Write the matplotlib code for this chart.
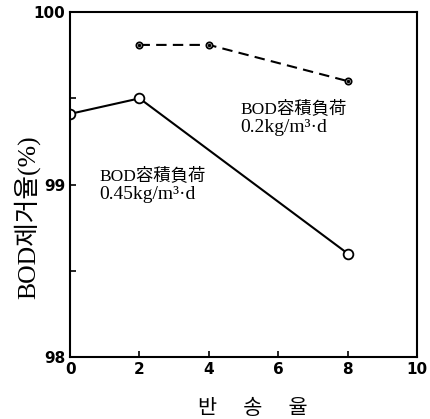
import matplotlib
matplotlib.use("Agg")
import matplotlib.pyplot as plt
from matplotlib.ticker import MultipleLocator

# Data
x_045 = [0, 2, 8]
y_045 = [99.41, 99.5, 98.6]
x_02 = [2, 4, 8]
y_02 = [99.81, 99.81, 99.6]
xticks = [0, 2, 4, 6, 8, 10]
yticks = [98, 99, 100]
label_045 = ["BOD容積負荷", "0.45kg/m³·d"]
label_02 = ["BOD容積負荷", "0.2kg/m³·d"]

fam = ['Liberation Serif', 'Noto Sans CJK KR', 'DejaVu Sans']

fig = plt.figure(figsize=(4.3, 4.19), dpi=100)
ax = fig.add_axes([0.163, 0.148, 0.807, 0.823])

ax.plot(x_045, y_045, '-', color='black', lw=1.5, marker='o', ms=7,
        mfc='white', mec='black', mew=1.3)
ax.plot(x_02, y_02, '--', color='black', lw=1.5, dashes=(5, 3), marker='o', ms=4.5,
        mfc='white', mec='black', mew=1.3)
ax.plot(x_02, y_02, 'o', color='black', ms=1.5)

ax.set_xlim(0, 10)
ax.set_ylim(98, 100)
ax.set_xticks(xticks)
ax.set_yticks(yticks)
ax.set_yticklabels([str(v) for v in yticks])
ax.yaxis.set_minor_locator(MultipleLocator(0.5))
ax.tick_params(axis='both', which='both', direction='in', length=4, width=1.2,
               labelsize=11, top=False, right=False)
for lab in ax.get_xticklabels() + ax.get_yticklabels():
    lab.set_fontfamily('DejaVu Sans')
    lab.set_fontweight('bold')
for s in ax.spines.values():
    s.set_linewidth(1.5)
    s.set_color('black')

ax.text(4.9, 99.44, label_02[0], fontsize=12.5, family=fam, va='center', ha='left')
ax.text(4.9, 99.33, label_02[1], fontsize=14, family=fam, va='center', ha='left')
ax.text(0.85, 99.05, label_045[0], fontsize=12.5, family=fam, va='center', ha='left')
ax.text(0.85, 98.94, label_045[1], fontsize=14, family=fam, va='center', ha='left')

ax.set_ylabel("BOD제거율(%)", fontsize=18.5, family=fam)
ax.yaxis.set_label_coords(-0.085, 0.405)
ax.set_xlabel("반 \u3000송 \u3000율", fontsize=15, family=fam)
ax.xaxis.set_label_coords(0.527, -0.125)

fig.savefig("out.png", dpi=100)
